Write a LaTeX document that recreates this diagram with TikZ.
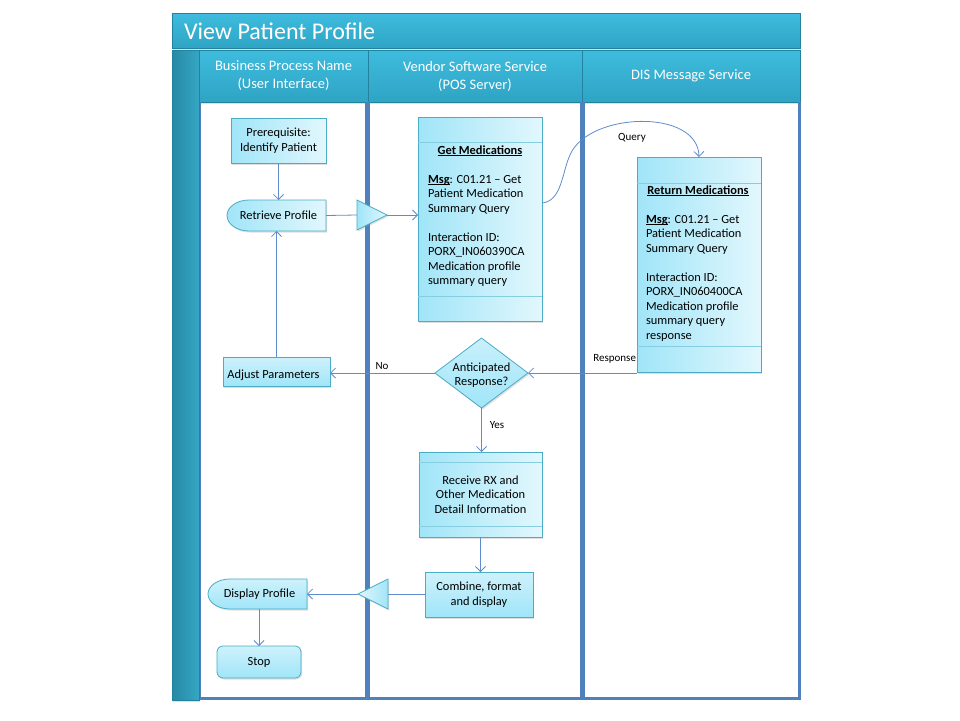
\documentclass[tikz,border=0pt]{standalone}
\usepackage{fontspec}
\setmainfont{Carlito}
\usetikzlibrary{shapes.geometric,arrows.meta,shadows,calc}
\newcommand\myul[1]{\underline{\smash{#1}}}
\definecolor{lane}{HTML}{4F81BD}
\definecolor{conn}{HTML}{5F8CCB}
\definecolor{nbd}{HTML}{4BACC6}
\definecolor{nin}{HTML}{86CDE0}
\definecolor{nfa}{HTML}{A0E5F8}
\definecolor{nfb}{HTML}{E2F7FD}
\definecolor{hdA}{HTML}{3EBCDE}
\definecolor{hdB}{HTML}{2FA4C4}
\definecolor{hdE}{HTML}{23839F}
\definecolor{barA}{HTML}{2789A4}
\definecolor{barB}{HTML}{35A6C4}
\begin{document}
\begin{tikzpicture}[x=1pt,y=-1pt,
  every node/.style={inner sep=0pt, outer sep=0pt},
  hdr/.style={draw=hdE, line width=0.6pt, top color=hdA, bottom color=hdB, text=white, align=center,
    font=\fontsize{14.5}{18}\selectfont,
    drop shadow={shadow xshift=1pt, shadow yshift=-1.5pt, opacity=0.25}},
  shade/.style={draw=nbd, line width=0.8pt, drop shadow={shadow xshift=1.2pt, shadow yshift=-1.5pt, opacity=0.25}},
  hbox/.style={shade, left color=nfa, right color=nfb, align=center, font=\fontsize{12.4}{14.5}\selectfont},
  vbox/.style={shade, top color=nfb!70!nfa, bottom color=nfa, align=center, font=\fontsize{12.4}{14.5}\selectfont},
  txt/.style={font=\fontsize{12.4}{14.5}\selectfont},
  inner/.style={draw=nin, line width=0.8pt},
  link/.style={draw=conn, line width=0.8pt},
  conn/.style={link, -{Straight Barb[length=5pt,width=10pt]}},
  lbl/.style={font=\fontsize{11}{13}\selectfont},
  lanebar/.style={draw=lane},
]
\useasboundingbox (0,0) rectangle (960,720);
\fill[white] (0,0) rectangle (960,720);

% title bar
\node[hdr, minimum width=628, minimum height=35, anchor=north west] (title) at (172,13) {};
\node[text=white, anchor=west, font=\fontsize{24}{28}\selectfont] (titletext) at (184,31) {View Patient Profile};

% left bar
\node[draw=hdE, line width=0.6pt, left color=barA, right color=barB, minimum width=27, minimum height=650, anchor=north west,
  drop shadow={shadow xshift=1pt, shadow yshift=-1.5pt, opacity=0.25}] (bar) at (172,50) {};

% headers
\node[hdr, minimum width=169, minimum height=52, anchor=north west] (h1) at (199,50) {Business Process Name\\(User Interface)};
\node[hdr, minimum width=214, minimum height=52, anchor=north west] (h2) at (368,50) {Vendor Software Service\\(POS Server)};
\node[hdr, minimum width=218, minimum height=52, anchor=north west] (h3) at (582,50) {DIS Message Service};

% lanes
\draw[lanebar, line width=1.5pt] (200.5,102) -- (200.5,699);
\draw[lanebar, line width=2.5pt] (200,698.5) -- (801,698.5);
\draw[lanebar, line width=2.5pt] (799.5,102) -- (799.5,699.5);
\draw[lanebar, line width=5pt] (367.5,102) -- (367.5,699.5);
\draw[lanebar, line width=5pt] (582.5,102) -- (582.5,699.5);

% lane 1 nodes
\node[hbox, minimum width=95, minimum height=45, anchor=north west] (pre) at (231,118) {Prerequisite:\\Identify Patient};

\path[shade, left color=nfa, right color=nfb] (326,200) -- (249,200) .. controls (236.9,200) and (227,206.9) .. (227,215.5)
  .. controls (227,224.1) and (236.9,231) .. (249,231) -- (326,231) -- cycle;
\node[txt, minimum width=99, minimum height=31] (rp) at (276.5,215.5) {\hspace{4pt}Retrieve Profile};

\node[vbox, minimum width=107, minimum height=29, anchor=north west] (ap) at (223,357) {\raisebox{-4pt}[\height][\depth]{Adjust Parameters\hspace{6pt}}};

\path[shade, top color=nfb!70!nfa, bottom color=nfa] (307,579) -- (230,579) .. controls (217.9,579) and (208,585.7) .. (208,594)
  .. controls (208,602.3) and (217.9,609) .. (230,609) -- (307,609) -- cycle;
\node[txt, minimum width=99, minimum height=30] (dp) at (257.5,594) {\hspace{4pt}Display Profile};

\node[vbox, rounded corners=6pt, minimum width=84, minimum height=32, anchor=north west] (st) at (217,646) {Stop};

% triangles
\node[shade, left color=nfa, right color=nfb, isosceles triangle, isosceles triangle stretches, minimum width=30, minimum height=30,
  anchor=apex] (t1) at (387,215) {};
\node[shade, left color=nfb, right color=nfa, isosceles triangle, isosceles triangle stretches, shape border rotate=180,
  minimum width=30, minimum height=30, anchor=apex] (t2) at (358,594) {};

% get medications
\node[hbox, minimum width=124, minimum height=204, anchor=north west] (gm) at (418,117) {};
\draw[inner] ($(gm.north west)+(0,25)$) -- ($(gm.north east)+(0,25)$);
\draw[inner] ($(gm.south west)+(0,-25)$) -- ($(gm.south east)+(0,-25)$);
\node[txt, anchor=base] (gmt) at (480,154) {\textbf{\myul{Get Medications}}};
\node[txt, anchor=north west, align=left] (gmb) at (428,175) {\textbf{\myul{Msg}}: C01.21 -- Get\\Patient Medication\\Summary Query\\[14.5pt]Interaction ID:\\PORX\_IN060390CA\\Medication profile\\summary query};

% return medications
\node[hbox, minimum width=124, minimum height=215, anchor=north west] (rm) at (637,157) {};
\draw[inner] ($(rm.north west)+(0,26)$) -- ($(rm.north east)+(0,26)$);
\draw[inner] ($(rm.south west)+(0,-26)$) -- ($(rm.south east)+(0,-26)$);
\node[txt, anchor=base] (rmt) at (698,194) {\textbf{\myul{Return Medications}}};
\node[txt, anchor=north west, align=left] (rmb) at (646,215) {\textbf{\myul{Msg}}: C01.21 -- Get\\Patient Medication\\Summary Query\\[14.5pt]Interaction ID:\\PORX\_IN060400CA\\Medication profile\\summary query\\response};

% decision
\node[shade, top color=nfb!60!nfa, bottom color=nfa, diamond, minimum width=93, minimum height=70] (dia) at (481.5,373) {};
\node[txt, align=center] (diat) at (481.5,375) {Anticipated\\Response?};

% receive / combine
\node[hbox, minimum width=123, minimum height=85, anchor=north west] (rx) at (419,452) {Receive RX and\\Other Medication\\Detail Information};
\draw[inner] ($(rx.north west)+(0,10)$) -- ($(rx.north east)+(0,10)$);
\draw[inner] ($(rx.south west)+(0,-11)$) -- ($(rx.south east)+(0,-11)$);
\node[vbox, minimum width=108, minimum height=45, anchor=north west] (cb) at (425,572) {Combine, format\\and display};

% connectors
\draw[conn] (pre.south) -- (pre.south |- rp.north);
\draw[link] (rp.east) -- (t1.lower side);
\draw[conn] (t1.apex) -- (t1.apex -| gm.west);
\draw[conn] ($(gm.north east)+(0,86)$) .. controls (562,201) and (562,172) .. (570,155)
  .. controls (588,112) and (698,108) .. (rm.north);
\node[lbl] (ql) at (632,138) {Query};
\draw[conn] (dia.east -| rm.west) -- (dia.east);
\node[lbl, anchor=east] (rl) at (636,359) {Response};
\draw[conn] (dia.west) -- (dia.west -| ap.east);
\node[lbl] (nl) at (382,366) {No};
\draw[conn] (ap.north) -- (rp.south);
\draw[conn] (dia.south) -- (dia.south |- rx.north);
\node[lbl] (yl) at (497,425) {Yes};
\draw[conn] (rx.south) -- (rx.south |- cb.north);
\draw[link] (t2.apex -| cb.west) -- (t2.lower side);
\draw[conn] (t2.apex) -- (t2.apex -| dp.east);
\draw[conn] (dp.south -| st.north) -- (st.north);
\end{tikzpicture}
\end{document}
